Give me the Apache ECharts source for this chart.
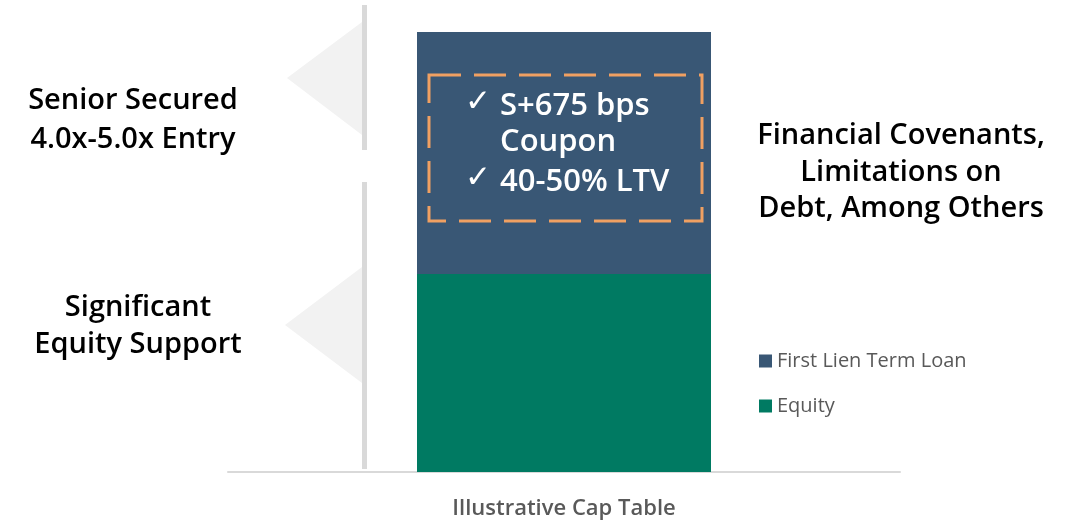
<!DOCTYPE html>
<html>
<head>
<meta charset="utf-8">
<script src="https://cdn.jsdelivr.net/npm/echarts@6/dist/echarts.min.js"></script>
<style>
  html, body { margin: 0; padding: 0; background: #fff; }
  #capChart { width: 1084px; height: 524px; }
</style>
</head>
<body>
<div id="capChart"></div>
<script>
// data
var categories = ['Illustrative Cap Table'];
var equityValues = [45];
var loanValues = [55];
var legendNames = ['First Lien Term Loan', 'Equity'];

var colors = { loan: '#395775', equity: '#007a62', bracket: '#d9d9d9', arrow: '#f2f2f2', dash: '#f0a062' };
var font = '"Open Sans", "DejaVu Sans", sans-serif';

var chartDom = document.getElementById('capChart');
var myChart = echarts.init(chartDom);

// one text element per line, y is the middle of the line
function line(x, y, text, size, color, align) {
    return {
        type: 'text', z: 11,
        x: x, y: y,
        style: {
            text: text,
            fill: color,
            font: '600 ' + size + 'px ' + font,
            align: align || 'center',
            verticalAlign: 'middle'
        }
    };
}

var option = {
    animation: false,
    grid: { left: 228, right: 184, top: 32, bottom: 52 },
    legend: {
        orient: 'vertical',
        left: 754, top: 346,
        itemWidth: 13, itemHeight: 13, itemGap: 25,
        icon: 'rect',
        data: legendNames,
        textStyle: { color: '#595959', fontSize: 20, fontFamily: font }
    },
    xAxis: {
        type: 'category',
        data: categories,
        axisTick: { show: false },
        axisLine: { lineStyle: { color: '#d9d9d9', width: 2 } },
        axisLabel: { margin: 26, color: '#595959', fontSize: 22, fontWeight: 600, fontFamily: font }
    },
    yAxis: {
        type: 'value', min: 0, max: 100,
        show: false, splitLine: { show: false }
    },
    series: [
        {
            name: 'Equity', type: 'bar', stack: 'cap',
            barWidth: 294,
            itemStyle: { color: colors.equity },
            data: equityValues
        },
        {
            name: 'First Lien Term Loan', type: 'bar', stack: 'cap',
            barWidth: 294,
            itemStyle: { color: colors.loan },
            data: loanValues
        }
    ],
    graphic: [
        // bracket arrows on the left
        { type: 'polygon', shape: { points: [[287, 78], [362, 22], [362, 135]] }, style: { fill: colors.arrow } },
        { type: 'polygon', shape: { points: [[285, 325], [362, 267], [362, 383]] }, style: { fill: colors.arrow } },
        { type: 'rect', shape: { x: 362, y: 5, width: 5, height: 145 }, style: { fill: colors.bracket } },
        { type: 'rect', shape: { x: 362, y: 182, width: 5, height: 287 }, style: { fill: colors.bracket } },
        // dashed callout box
        {
            type: 'rect', z: 10,
            shape: { x: 429, y: 75, width: 273, height: 146 },
            style: { fill: null, stroke: colors.dash, lineWidth: 3, lineDash: [32, 13] }
        },
        { type: 'text', z: 11, x: 465, y: 103, style: { text: '✓', fill: '#fff', font: '31px "DejaVu Sans", sans-serif', verticalAlign: 'middle' } },
        { type: 'text', z: 11, x: 465, y: 179, style: { text: '✓', fill: '#fff', font: '31px "DejaVu Sans", sans-serif', verticalAlign: 'middle' } },
        line(500, 106, 'S+675 bps', 31, '#fff', 'left'),
        line(500, 142, 'Coupon', 31, '#fff', 'left'),
        line(500, 182, '40-50% LTV', 31, '#fff', 'left'),
        // side notes
        line(133, 101, 'Senior Secured', 29, '#000'),
        line(133, 140, '4.0x-5.0x Entry', 29, '#000'),
        line(138, 308, 'Significant', 29, '#000'),
        line(138, 345, 'Equity Support', 29, '#000'),
        line(901, 136, 'Financial Covenants,', 29, '#000'),
        line(901, 173, 'Limitations on', 29, '#000'),
        line(901, 209, 'Debt, Among Others', 29, '#000')
    ]
};
myChart.setOption(option);
</script>
</body>
</html>
